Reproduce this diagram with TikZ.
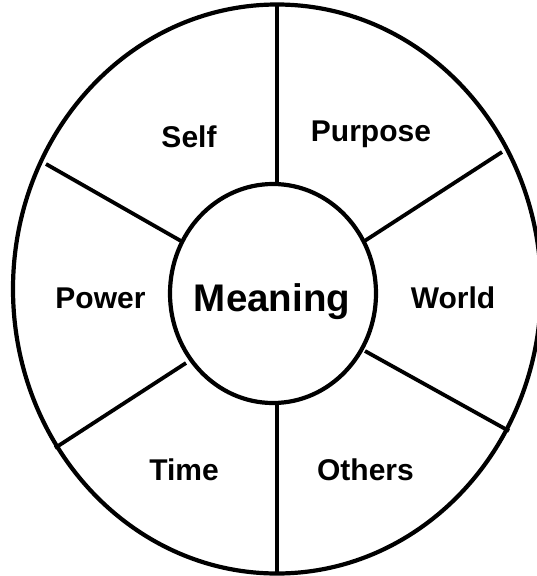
\documentclass[tikz,border=0pt]{standalone}
\usepackage{fontspec}
\setmainfont{Liberation Sans}
\usetikzlibrary{positioning}

\begin{document}
\begin{tikzpicture}[
  x=1pt, y=-1pt,
  rim/.style={line width=4.2pt, black},
  spoke/.style={line width=3.8pt, black},
  lab/.style={font=\fontsize{30}{30}\selectfont\bfseries, anchor=base, inner sep=0pt},
  hub/.style={font=\fontsize{38.5}{38.5}\selectfont\bfseries, anchor=base, inner sep=0pt},
]
\useasboundingbox (0,0) rectangle (536,576);
% wheel
\draw[rim] (277,289) ellipse [x radius=264, y radius=284.5];
\draw[rim] (273,293.5) ellipse [x radius=103, y radius=109.5];
\foreach \a/\b in {{(277,4.5)}/{(277,184)}, {(277,403)}/{(277,573)},
                   {(46,164)}/{(181,241)}, {(502,152)}/{(363,242)},
                   {(55,448)}/{(186,363)}, {(509,431)}/{(365,351)}} {
  \draw[spoke] \a -- \b;
}
% labels
\node[hub] (meaning) at (272,311) {Meaning};
\node[lab] (self)    at (189,147) {Self};
\node[lab] (purpose) at (371,141) {Purpose};
\node[lab] (power)   at (100.5,308) {Power};
\node[lab] (world)   at (453,308) {World};
\node[lab] (time)    at (184,480.5) {Time};
\node[lab] (others)  at (365.5,480.5) {Others};
\end{tikzpicture}
\end{document}
